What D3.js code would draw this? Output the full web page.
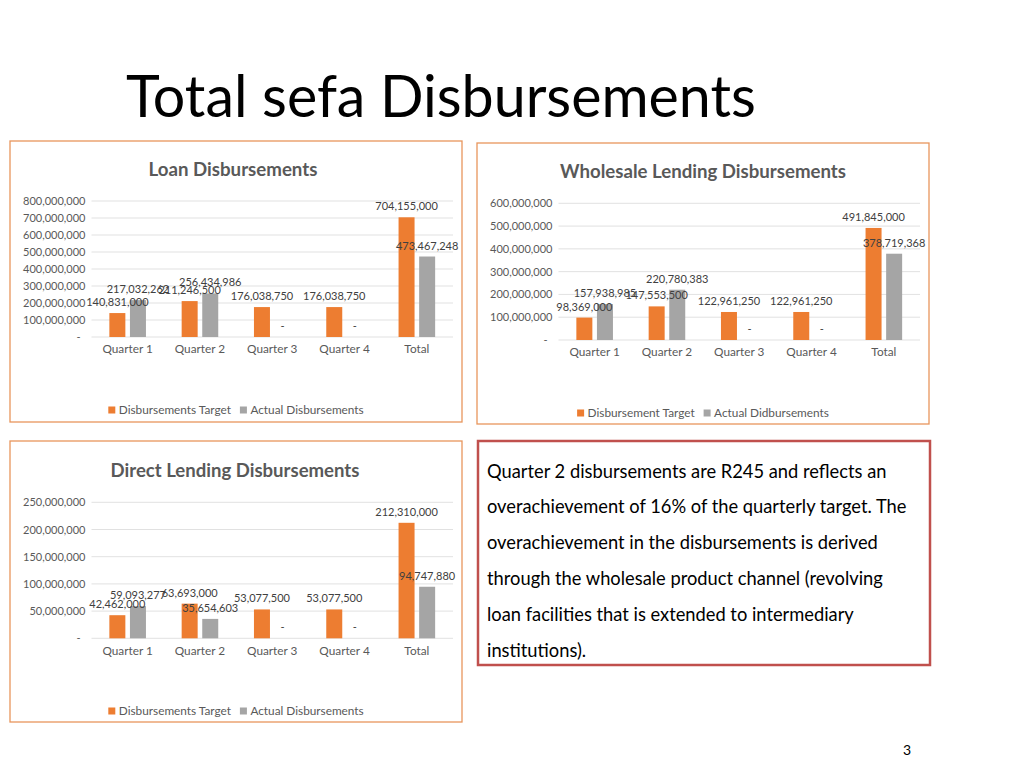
<!DOCTYPE html>
<html><head><meta charset="utf-8">
<script src="https://cdn.jsdelivr.net/npm/d3@7"></script>
<style>
html,body{margin:0;padding:0;background:#fff;}
svg{display:block;font-family:Lato,"Open Sans",sans-serif;}
</style></head>
<body>
<svg id="c" width="1024" height="768"></svg>
<script>
// ---------- DATA ----------
const categories = ["Quarter 1","Quarter 2","Quarter 3","Quarter 4","Total"];

const loanTitle = "Loan Disbursements";
const loanSeries = ["Disbursements Target","Actual Disbursements"];
const loanTarget = [140831000, 211246500, 176038750, 176038750, 704155000];
const loanActual = [217032262, 256434986, 0, 0, 473467248];
const loanTicks = [0,100000000,200000000,300000000,400000000,500000000,600000000,700000000,800000000];

const wholesaleTitle = "Wholesale Lending Disbursements";
const wholesaleSeries = ["Disbursement Target","Actual Didbursements"];
const wholesaleTarget = [98369000, 147553500, 122961250, 122961250, 491845000];
const wholesaleActual = [157938985, 220780383, 0, 0, 378719368];
const wholesaleTicks = [0,100000000,200000000,300000000,400000000,500000000,600000000];

const directTitle = "Direct Lending Disbursements";
const directSeries = ["Disbursements Target","Actual Disbursements"];
const directTarget = [42462000, 63693000, 53077500, 53077500, 212310000];
const directActual = [59093277, 35654603, 0, 0, 94747880];
const directTicks = [0,50000000,100000000,150000000,200000000,250000000];

const pageTitle = "Total sefa Disbursements";
const noteLines = [
  "Quarter 2 disbursements are R245 and reflects an",
  "overachievement of 16% of the quarterly target. The",
  "overachievement in the disbursements is derived",
  "through the wholesale product channel (revolving",
  "loan facilities that is extended to intermediary",
  "institutions)."
];
const pageNumber = "3";

// ---------- DRAW ----------
const svg = d3.select("#c");
const colors = ["#ED7D31","#A5A5A5"];
const fmt = d3.format(",");

function fitText(sel, base, width){
  const w = sel.node().getComputedTextLength();
  sel.attr("font-size", base*width/w);
}

// page title
const t = svg.append("text").attr("x",126).attr("y",117)
  .attr("font-size",60).attr("font-weight",400).attr("fill","#000").text(pageTitle);
fitText(t, 60, 630);

function chart(cfg){
  const g = svg.append("g");
  const b = cfg.box;
  g.append("rect").attr("x",b.x).attr("y",b.y).attr("width",b.w).attr("height",b.h)
    .attr("fill","#fff").attr("stroke","#E8965C").attr("stroke-width",1.3);
  const tt0 = g.append("text").attr("x",cfg.titleX).attr("y",cfg.titleY).attr("text-anchor","middle")
    .attr("font-size",18).attr("font-weight",700).attr("fill","#595959").text(cfg.title);
  fitText(tt0, 18, cfg.titleW);

  const y = d3.scaleLinear().domain([0, d3.max(cfg.ticks)]).range([cfg.py1, cfg.py0]);
  const x0 = d3.scaleBand().domain(categories).range([cfg.px0, cfg.px1])
    .paddingInner(0.494).paddingOuter(0.247);
  const x1 = d3.scaleBand().domain([0,1]).range([0, x0.bandwidth()]).paddingInner(0.223);

  // gridlines
  g.selectAll(".grid").data(cfg.ticks).join("line")
    .attr("x1",cfg.px0).attr("x2",cfg.px1)
    .attr("y1",d=>y(d)).attr("y2",d=>y(d))
    .attr("stroke","#D9D9D9").attr("stroke-width",0.8);

  // y axis labels
  const yAxis = d3.axisLeft(y).tickValues(cfg.ticks).tickSize(0).tickPadding(0)
    .tickFormat(d=> d===0 ? "-" : fmt(d));
  const ya = g.append("g").attr("transform",`translate(${cfg.px0-6},0)`).call(yAxis);
  ya.select(".domain").remove();
  ya.selectAll("text").attr("font-size",11).attr("fill","#595959")
    .attr("font-family","Lato,'Open Sans',sans-serif");
  ya.selectAll(".tick").filter(d=>d===0).select("text").attr("dx",-5);

  // x axis labels
  const xAxis = d3.axisBottom(x0).tickSize(0).tickPadding(0);
  const xa = g.append("g").attr("transform",`translate(0,${cfg.py1+8})`).call(xAxis);
  xa.select(".domain").remove();
  xa.selectAll("text").attr("font-size",11.8).attr("fill","#595959")
    .attr("font-family","Lato,'Open Sans',sans-serif");

  const rows = categories.map((c,i)=>({c, vals:[cfg.target[i], cfg.actual[i]]}));
  const grp = g.selectAll(".grp").data(rows).join("g")
    .attr("transform",d=>`translate(${x0(d.c)},0)`);
  grp.selectAll("rect").data(d=>d.vals.map((v,k)=>({v,k}))).join("rect")
    .attr("x",d=>x1(d.k)).attr("width",x1.bandwidth())
    .attr("y",d=>y(d.v)).attr("height",d=>y(0)-y(d.v))
    .attr("fill",d=>colors[d.k]);
  grp.selectAll("text").data(d=>d.vals.map((v,k)=>({v,k}))).join("text")
    .attr("x",d=>x1(d.k)+x1.bandwidth()/2).attr("y",d=>y(d.v)-7)
    .attr("text-anchor","middle").attr("font-size",11).attr("fill","#404040")
    .text(d=> d.v===0 ? "-" : fmt(d.v));

  // legend
  const lg = g.append("g");
  let cx = 0;
  cfg.series.forEach((s,k)=>{
    lg.append("rect").attr("x",cx).attr("y",-3.5).attr("width",7).attr("height",7).attr("fill",colors[k]);
    const tt = lg.append("text").attr("x",cx+10.5).attr("y",4.2).attr("font-size",11.8)
      .attr("fill","#595959").text(s);
    cx += 10.5 + tt.node().getComputedTextLength() + 9;
  });
  const lw = cx - 9;
  lg.attr("transform",`translate(${b.x + b.w/2 - lw/2},${cfg.legendY})`);
}

chart({box:{x:10,y:141,w:452,h:281}, title:loanTitle, titleX:233, titleY:176, titleW:169,
  px0:91.5, px1:453, py0:201, py1:337, ticks:loanTicks,
  target:loanTarget, actual:loanActual, series:loanSeries, legendY:410});
chart({box:{x:477,y:143,w:452,h:281}, title:wholesaleTitle, titleX:703, titleY:178, titleW:286,
  px0:558.5, px1:920, py0:203.3, py1:340, ticks:wholesaleTicks,
  target:wholesaleTarget, actual:wholesaleActual, series:wholesaleSeries, legendY:413});
chart({box:{x:10,y:441,w:452,h:281}, title:directTitle, titleX:235, titleY:477, titleW:249,
  px0:91.5, px1:453, py0:502.3, py1:638.3, ticks:directTicks,
  target:directTarget, actual:directActual, series:directSeries, legendY:711});

// note box
svg.append("rect").attr("x",478).attr("y",441).attr("width",452).attr("height",224)
  .attr("fill","#fff").attr("stroke","#C0504D").attr("stroke-width",2.5);
const nl = svg.append("g").selectAll("text").data(noteLines).join("text")
  .attr("x",487).attr("y",(d,i)=>477.5+i*35.8)
  .attr("font-size",17).attr("fill","#000").text(d=>d);
fitText(d3.select(nl.nodes()[0]), 17, 400);
nl.attr("font-size", d3.select(nl.nodes()[0]).attr("font-size"));

svg.append("text").attr("x",907).attr("y",755).attr("text-anchor","middle")
  .attr("font-size",14).attr("fill","#000").text(pageNumber);
</script>
</body></html>
